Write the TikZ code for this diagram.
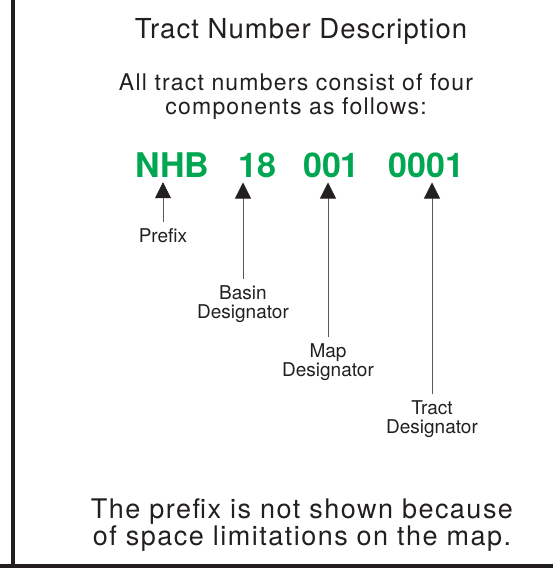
\documentclass[tikz,border=0pt]{standalone}
\usepackage{fontspec}
\setmainfont{TeX Gyre Heros}
\newfontfamily\headfont{TeX Gyre Heros}[LetterSpace=3.8]
\newfontfamily\bodyfont{TeX Gyre Heros}[LetterSpace=5.2]
\newfontfamily\notefont{TeX Gyre Heros}[LetterSpace=5.5]
\usetikzlibrary{arrows.meta}
\definecolor{inkgray}{RGB}{35,31,32}
\definecolor{tractgreen}{RGB}{0,166,81}
\tikzset{
  heading/.style={anchor=base, inner sep=0pt, text=inkgray, font=\headfont\fontsize{27.5}{30}\selectfont},
  intro/.style={anchor=north, inner sep=0pt, align=center, text=inkgray, font=\bodyfont\fontsize{23}{24}\selectfont},
  note/.style={anchor=north, inner sep=0pt, align=center, text=inkgray, font=\notefont\fontsize{27}{23}\selectfont},
  part/.style={anchor=base, inner xsep=0pt, inner ysep=5pt, text=tractgreen, font=\bfseries\fontsize{34}{36}\selectfont},
  partlabel/.style={anchor=north, inner sep=0pt, align=center, text=inkgray, font=\fontsize{19}{19}\selectfont},
  pointer/.style={draw=black!65, line width=0.8pt, shorten <=6pt, -{Triangle[width=16pt,length=16pt,color=inkgray]}},
  frameline/.style={draw=inkgray, line width=4pt}
}
\begin{document}
\begin{tikzpicture}[x=1pt, y=-1pt]
  \useasboundingbox (0,0) rectangle (553,575);

  % frame
  \coordinate (ftop) at (13,0);
  \coordinate (fcorner) at (13,566);
  \coordinate (fleft) at (0,566);
  \coordinate (fright) at (553,566);
  \draw[frameline] (ftop) -- (fcorner);
  \draw[frameline] (fleft) -- (fright);

  % texts
  \node[heading] (title) at (301,39) {Tract Number Description};
  \node[intro] (intro) at (296,73) {All tract numbers consist of four\\components as follows:};

  % the four components
  \node[part] (nhb) at (172.5,177) {NHB};
  \node[part] (basin) at (257.5,177) {18};
  \node[part] (map) at (331.5,177) {001};
  \node[part] (tract) at (426.5,177) {0001};

  \node[partlabel] (prefixlbl) at (163,228) {Prefix};
  \node[partlabel] (basinlbl) at (243,285) {Basin\\Designator};
  \node[partlabel] (maplbl) at (328,343) {Map\\Designator};
  \node[partlabel] (tractlbl) at (432,400) {Tract\\Designator};

  \draw[pointer] (prefixlbl.north) -- (prefixlbl.north |- nhb.south);
  \draw[pointer] (basinlbl.north) -- (basinlbl.north |- basin.south);
  \draw[pointer] (maplbl.north) -- (maplbl.north |- map.south);
  \draw[pointer] (tractlbl.north) -- (tractlbl.north |- tract.south);

  \node[note] (footnote) at (302,499) {The prefix is not shown because\\of space limitations on the map.};
\end{tikzpicture}
\end{document}
